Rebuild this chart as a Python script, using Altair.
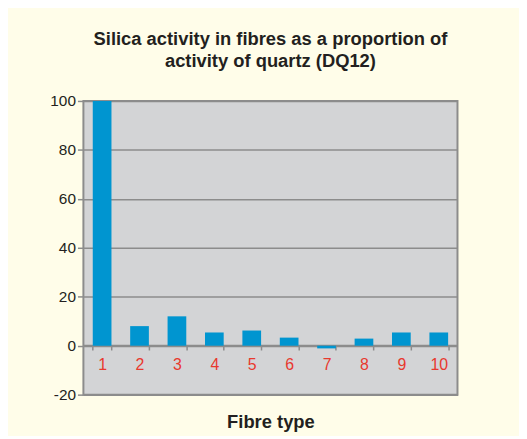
import altair as alt
import pandas as pd

fibre_types = ["1", "2", "3", "4", "5", "6", "7", "8", "9", "10"]
activity = [100, 8, 12, 5.4, 6.2, 3.3, -1.1, 2.9, 5.4, 5.4]
y_ticks = [-20, 0, 20, 40, 60, 80, 100]

df = pd.DataFrame({"fibre": fibre_types, "activity": activity})

FONT = "Liberation Sans"
GRID = "#8c8c8c"
TEXT = "#231f20"

chart = (
    alt.Chart(df)
    .mark_bar(color="#0095d0")
    .encode(
        x=alt.X(
            "fibre:N",
            sort=fibre_types,
            title="Fibre type",
            scale=alt.Scale(paddingInner=0.5, paddingOuter=0.25),
            axis=alt.Axis(
                labelAngle=0,
                labelColor="#e8392e",
                labelFontSize=16,
                labelFont=FONT,
                labelPadding=7,
                tickBand="extent",
                offset=-50,
                domainColor=GRID,
                domainWidth=1.5,
                tickColor=GRID,
                tickWidth=1.5,
                tickSize=5,
                titleFont=FONT,
                titleFontSize=18.5,
                titleFontWeight="bold",
                titleColor=TEXT,
                titlePadding=40,
                grid=False,
            ),
        ),
        y=alt.Y(
            "activity:Q",
            title=None,
            scale=alt.Scale(domain=[-20, 100], nice=False),
            axis=alt.Axis(
                values=y_ticks,
                labelExpr="datum.value + ''",
                labelFont=FONT,
                labelFontSize=15.5,
                labelColor=TEXT,
                labelPadding=2,
                tickColor=GRID,
                tickWidth=1.5,
                tickSize=6,
                domain=False,
                grid=True,
                gridColor=GRID,
                gridWidth=1.5,
                gridOpacity=1,
            ),
        ),
    )
    .properties(
        width=377,
        height=296,
        title=alt.TitleParams(
            text=["Silica activity in fibres as a proportion of", "activity of quartz (DQ12)"],
            font=FONT,
            fontSize=18.5,
            fontWeight="bold",
            color=TEXT,
            lineHeight=21.5,
            anchor="middle",
            offset=24,
        ),
        padding={"left": 76, "top": 92, "right": 62, "bottom": 40},
        autosize="none",
        background="#fffde9",
    )
    .configure_view(fill="#d3d4d6", stroke=GRID, strokeWidth=2)
)

chart.save("out.html", embed_options={"renderer": "svg", "actions": False})
